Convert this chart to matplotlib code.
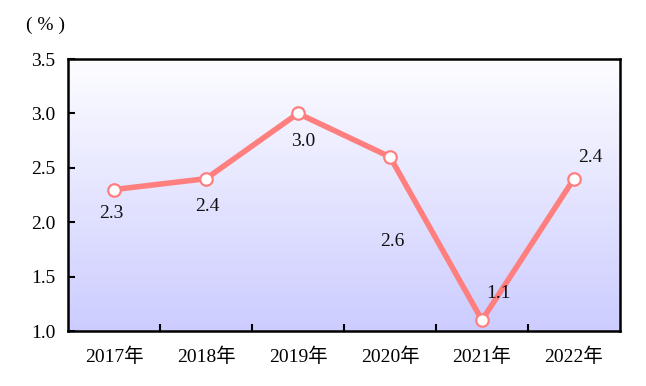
import numpy as np
import matplotlib.pyplot as plt
from matplotlib.colors import LinearSegmentedColormap

years = ['2017年', '2018年', '2019年', '2020年', '2021年', '2022年']
values = [2.3, 2.4, 3.0, 2.6, 1.1, 2.4]
# label offsets in points (dx, dy)
offsets = [(-2, -17), (1, -20), (4, -20), (2, -61), (12, 19), (12, 15)]

fam = ['Liberation Serif', 'Noto Sans CJK SC']
plt.rcParams['font.family'] = fam

fig = plt.figure(figsize=(6.46, 3.86), dpi=100)
ax = fig.add_axes([68 / 646, 1 - 331 / 386, 552 / 646, 272 / 386])

x = np.arange(len(years))
ax.set_xlim(-0.5, len(years) - 0.5)
ax.set_ylim(1.0, 3.5)

# background gradient
cmap = LinearSegmentedColormap.from_list('bg', ['#ccccff', '#fdfdff'])
grad = np.linspace(0, 1, 256).reshape(-1, 1)
ax.imshow(grad, aspect='auto', cmap=cmap, origin='lower',
          extent=[-0.5, len(years) - 0.5, 1.0, 3.5], zorder=0)

ax.plot(x, values, color='#ff7f7f', lw=4, zorder=2, solid_capstyle='round',
        marker='o', ms=9, mfc='white', mec='#ff7f7f', mew=1.6)

for xi, v, (dx, dy) in zip(x, values, offsets):
    ax.annotate(f'{v:.1f}', (xi, v), xytext=(dx, dy), textcoords='offset points',
                ha='center', va='center', fontsize=14, color='#111111', zorder=3)

ax.set_xticks(x)
ax.set_xticklabels(years, fontsize=14)
ax.set_xticks(np.arange(0.5, len(years) - 1), minor=True)
ax.tick_params(axis='x', which='major', length=0, pad=12)
ax.tick_params(axis='x', which='minor', direction='in', length=5, width=1.5)

ax.set_yticks(np.arange(1.0, 3.51, 0.5))
ax.set_yticklabels([f'{t:.1f}' for t in np.arange(1.0, 3.51, 0.5)], fontsize=14)
ax.tick_params(axis='y', direction='in', length=5, width=1.5, pad=9)

for s in ax.spines.values():
    s.set_linewidth(1.8)
    s.set_color('black')

fig.text(45 / 646, 1 - 25 / 386, '( % )', ha='center', va='center', fontsize=14,
         family=fam)

fig.savefig('out.png', dpi=100)
